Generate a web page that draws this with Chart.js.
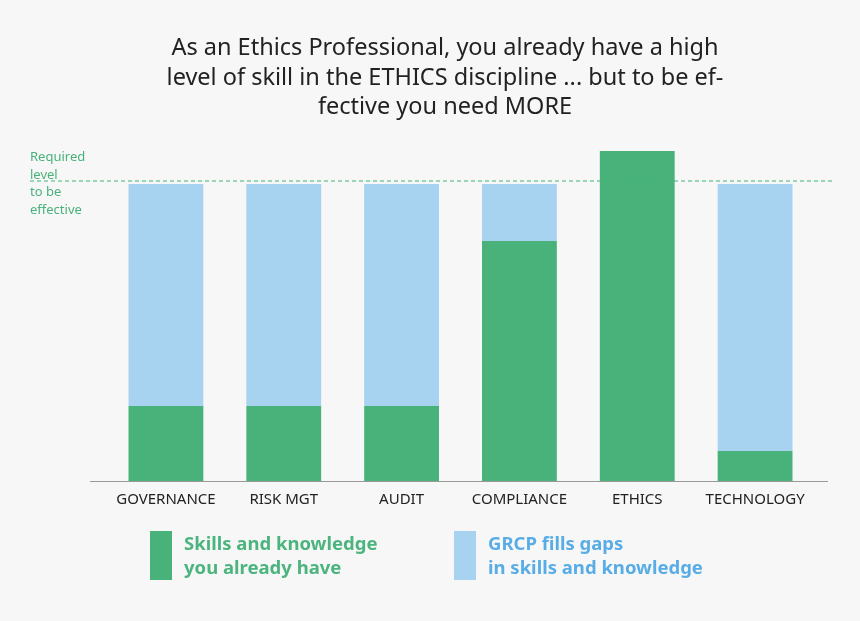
<!DOCTYPE html>
<html>
<head>
<meta charset="utf-8">
<script src="https://cdn.jsdelivr.net/npm/chart.js@4"></script>
<style>
  body { margin: 0; background: #f7f7f7; font-family: "Noto Sans", "Open Sans", sans-serif; }
  #wrap { position: relative; width: 860px; height: 621px; }
  canvas { position: absolute; left: 0; top: 0; }
  .title { position: absolute; left: 0; width: 890px; top: 32px; text-align: center; font-size: 23.5px; line-height: 29.5px; color: #222; }
  .req { position: absolute; left: 30px; top: 148px; font-size: 13px; line-height: 17.5px; color: #49b27b; }
  .leg { position: absolute; top: 531px; display: flex; align-items: flex-start; font-weight: bold; font-size: 18.5px; line-height: 24px; }
  .sw { width: 22px; height: 49px; margin-right: 12px; }
</style>
</head>
<body>
<div id="wrap">
  <canvas id="c" width="860" height="621"></canvas>
  <div class="title">As an Ethics Professional, you already have a high<br>level of skill in the ETHICS discipline ... but to be ef-<br>fective you need MORE</div>
  <div class="req">Required<br>level<br>to be<br>effective</div>
  <div class="leg" style="left:150px;color:#4cb47e"><div class="sw" style="background:#49b27b"></div><div>Skills and knowledge<br>you already have</div></div>
  <div class="leg" style="left:454px;color:#58ade6"><div class="sw" style="background:#a8d3f0"></div><div>GRCP fills gaps<br>in skills and knowledge</div></div>
</div>
<script>
  const categories = ["GOVERNANCE", "RISK MGT", "AUDIT", "COMPLIANCE", "ETHICS", "TECHNOLOGY"];
  const haveValues = [25, 25, 25, 80, 110, 10];
  const gapValues = [74, 74, 74, 19, 0, 89];
  const requiredLevel = 100;

  const requiredLine = {
    id: "requiredLine",
    afterDatasetsDraw(chart) {
      const y = chart.scales.y.getPixelForValue(requiredLevel);
      const base = chart.scales.y.getPixelForValue(0);
      const ctx = chart.ctx;
      ctx.save();
      ctx.strokeStyle = "#999";
      ctx.lineWidth = 1;
      ctx.beginPath();
      ctx.moveTo(90, base + 0.5);
      ctx.lineTo(828, base + 0.5);
      ctx.stroke();
      ctx.strokeStyle = "#3fb575";
      ctx.setLineDash([4, 3]);
      ctx.beginPath();
      ctx.moveTo(30, y);
      ctx.lineTo(832, y);
      ctx.stroke();
      ctx.restore();
    }
  };

  new Chart(document.getElementById("c").getContext("2d"), {
    type: "bar",
    data: {
      labels: categories,
      datasets: [
        { label: "Skills and knowledge you already have", data: haveValues, backgroundColor: "#49b27b", barPercentage: 0.635, categoryPercentage: 1 },
        { label: "GRCP fills gaps in skills and knowledge", data: gapValues, backgroundColor: "#a8d3f0", barPercentage: 0.635, categoryPercentage: 1 }
      ]
    },
    options: {
      responsive: false,
      animation: false,
      layout: { padding: { top: 151, left: 107, right: 46, bottom: 110 } },
      scales: {
        x: {
          stacked: true,
          grid: { display: false },
          border: { display: false },
          ticks: { color: "#222", font: { size: 15, family: "Noto Sans" }, padding: 2 }
        },
        y: {
          stacked: true, min: 0, max: 110, display: false
        }
      },
      plugins: { legend: { display: false }, tooltip: { enabled: false } }
    },
    plugins: [requiredLine]
  });
</script>
</body>
</html>
